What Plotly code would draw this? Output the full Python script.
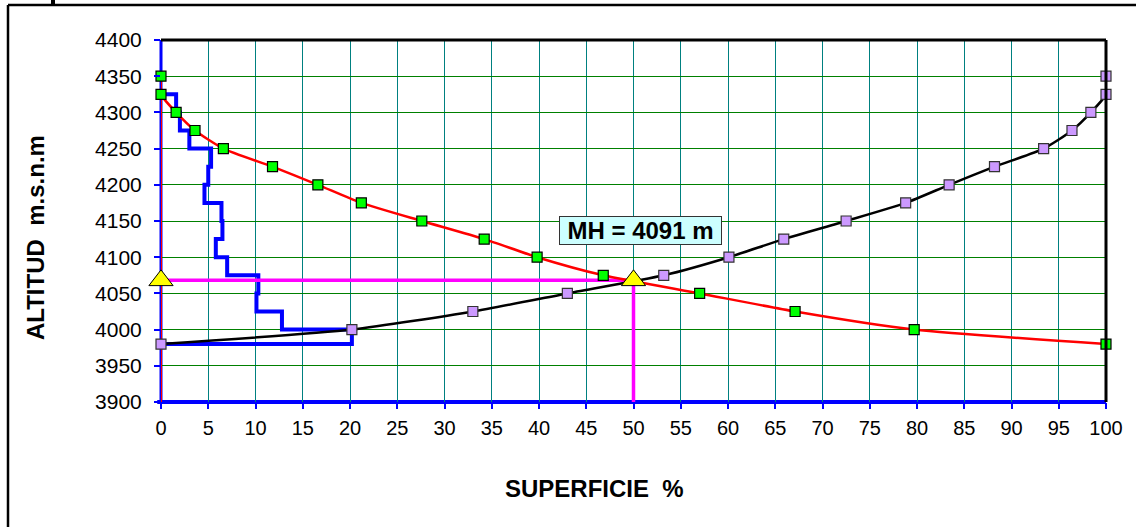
import plotly.graph_objects as go

# Hypsometric data: altitude (m.s.n.m) vs. cumulative area (%)
alt_above = [4350, 4325, 4300, 4275, 4250, 4225, 4200, 4175, 4150, 4125, 4100, 4075, 4050, 4025, 4000, 3980]
pct_above = [0.0, 0.0, 1.6, 3.6, 6.6, 11.8, 16.6, 21.2, 27.6, 34.2, 39.8, 46.8, 57.0, 67.1, 79.7, 100.0]

alt_below = [3980, 4000, 4025, 4050, 4075, 4100, 4125, 4150, 4175, 4200, 4225, 4250, 4275, 4300, 4325, 4350]
pct_below = [0.0, 20.2, 33.0, 43.0, 53.2, 60.1, 65.9, 72.5, 78.8, 83.4, 88.2, 93.4, 96.4, 98.4, 100.0, 100.0]

# Partial area per altitude band (%)
band_low = [3980, 4000, 4025, 4050, 4075, 4100, 4125, 4150, 4175, 4200, 4225, 4250, 4275, 4300]
band_high = [4000, 4025, 4050, 4075, 4100, 4125, 4150, 4175, 4200, 4225, 4250, 4275, 4300, 4325]
band_pct = [20.2, 12.8, 10.1, 10.3, 7.0, 5.8, 6.5, 6.4, 4.6, 5.0, 5.3, 3.0, 2.0, 1.6]

# Median altitude (50 % of area)
median_pct = 50
median_alt = 4068
mh_label = "MH = 4091 m"

x_ticks = list(range(0, 101, 5))
y_ticks = list(range(3900, 4401, 50))

FONT = "Liberation Sans, Arial, sans-serif"

fig = go.Figure()

# Step polygon of partial areas
step_x = [0]
step_y = [band_low[0]]
for lo, hi, p in zip(band_low, band_high, band_pct):
    step_x += [p, p]
    step_y += [lo, hi]
step_x.append(0)
step_y.append(band_high[-1])
fig.add_trace(go.Scatter(x=step_x, y=step_y, mode="lines",
                         line=dict(color="#0000FF", width=4), hoverinfo="skip",
                         cliponaxis=False))

# Red line along the zero axis
fig.add_trace(go.Scatter(x=[0, 0], y=[3900, alt_above[0]], mode="lines",
                         line=dict(color="#FF0000", width=2), hoverinfo="skip",
                         cliponaxis=False))

# Median guide lines
fig.add_trace(go.Scatter(x=[0, median_pct, median_pct], y=[median_alt, median_alt, 3900],
                         mode="lines", line=dict(color="#FF00FF", width=3.5), hoverinfo="skip",
                         cliponaxis=False))

# Area above altitude
fig.add_trace(go.Scatter(x=pct_above, y=alt_above, mode="lines+markers",
                         line=dict(color="#FF0000", width=2.5, shape="spline", smoothing=0.6),
                         marker=dict(symbol="square", size=10, color="#00FF00",
                                     line=dict(color="#000000", width=1.2)),
                         cliponaxis=False))

# Area below altitude
fig.add_trace(go.Scatter(x=pct_below, y=alt_below, mode="lines+markers",
                         line=dict(color="#000000", width=2.5, shape="spline", smoothing=0.6),
                         marker=dict(symbol="square", size=10, color="#CC99FF",
                                     line=dict(color="#333333", width=1.2)),
                         cliponaxis=False))

# Median markers
fig.add_trace(go.Scatter(x=[0, median_pct], y=[median_alt, median_alt], mode="markers",
                         marker=dict(symbol="triangle-up", size=21, color="#FFFF00",
                                     line=dict(color="#000000", width=1)),
                         cliponaxis=False))

fig.add_annotation(x=50.7, y=4137, text="<b>" + mh_label + "</b>", showarrow=False,
                   font=dict(family=FONT, size=24, color="#000000"),
                   bgcolor="#CCFFFF", bordercolor="#333333", borderwidth=1,
                   borderpad=1, width=159, height=25)

# Axis titles
fig.add_annotation(xref="paper", yref="paper", x=(35 - 161) / 945, y=(402 - 238) / 362,
                   xanchor="center", yanchor="middle",
                   text="<b>ALTITUD  m.s.n.m</b>", textangle=-90, showarrow=False,
                   font=dict(family=FONT, size=24, color="#000000"))
fig.add_annotation(xref="paper", yref="paper", x=(594 - 161) / 945, y=(402 - 488) / 362,
                   xanchor="center", yanchor="middle",
                   text="<b>SUPERFICIE  %</b>", showarrow=False,
                   font=dict(family=FONT, size=24, color="#000000"))

shapes = [
    # blue axis lines, kept beneath the data lines
    dict(type="line", xref="paper", yref="paper", x0=0, x1=0, y0=0, y1=1, layer="below",
         line=dict(color="#0000FF", width=3)),
    dict(type="line", xref="paper", yref="paper", x0=-0.004, x1=1, y0=0, y1=0, layer="below",
         line=dict(color="#0000FF", width=4)),
    # plot frame: top and right edges
    dict(type="line", xref="paper", yref="paper", x0=0, x1=1, y0=1, y1=1,
         line=dict(color="#000000", width=3)),
    dict(type="line", xref="paper", yref="paper", x0=1, x1=1, y0=0, y1=1,
         line=dict(color="#000000", width=3)),
    # outer chart frame
    dict(type="line", xref="paper", yref="paper", x0=(8 - 161) / 945, x1=1.1,
         y0=(402 - 5) / 362, y1=(402 - 5) / 362, line=dict(color="#000000", width=2.5)),
    dict(type="line", xref="paper", yref="paper", x0=(8 - 161) / 945, x1=(8 - 161) / 945,
         y0=(402 - 5) / 362, y1=-0.4, line=dict(color="#000000", width=2.5)),
    dict(type="line", xref="paper", yref="paper", x0=(53 - 161) / 945, x1=(53 - 161) / 945,
         y0=(402 - 5) / 362, y1=(402 + 2) / 362, line=dict(color="#000000", width=4)),
]

fig.update_layout(
    width=1136, height=527,
    margin=dict(l=161, r=30, t=40, b=125),
    paper_bgcolor="#FFFFFF", plot_bgcolor="#FFFFFF",
    showlegend=False,
    shapes=shapes,
    font=dict(family=FONT, size=20, color="#000000"),
    xaxis=dict(range=[0, 100], tickvals=x_ticks, ticks="outside", ticklen=6,
               tickcolor="#0000FF", tickwidth=2, showline=False,
               showgrid=True, gridcolor="#008080", gridwidth=1,
               zeroline=False, tickfont=dict(size=20), ticklabelstandoff=2,
               fixedrange=True),
    yaxis=dict(range=[3900, 4400], tickvals=y_ticks, ticks="outside", ticklen=6,
               tickcolor="#0000FF", tickwidth=2, showline=False,
               showgrid=True, gridcolor="#008000", gridwidth=1,
               zeroline=False, tickfont=dict(size=21), ticklabelstandoff=8,
               fixedrange=True),
)

fig.write_html("out.html")
